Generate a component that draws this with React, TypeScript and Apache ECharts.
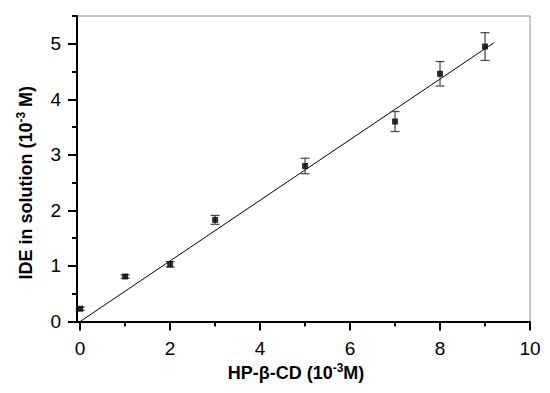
import React, { useEffect, useRef } from "react";
import * as echarts from "echarts";

const concentration = [0, 1, 2, 3, 5, 7, 8, 9];
const solubility = [0.23, 0.81, 1.03, 1.83, 2.8, 3.6, 4.46, 4.95];
const errors = [0.03, 0.03, 0.05, 0.08, 0.14, 0.18, 0.22, 0.25];
const fitLine = [
  [0, 0],
  [9.2, 5.02],
];
const xMajorTicks = [0, 2, 4, 6, 8, 10];
const xMinorTicks = [1, 3, 5, 7, 9];
const yMajorTicks = [0, 1, 2, 3, 4, 5];
const yMinorTicks = [0.5, 1.5, 2.5, 3.5, 4.5, 5.5];

const FONT = "'Liberation Sans', Arial, Helvetica, sans-serif";

export default function App() {
  const ref = useRef<HTMLDivElement>(null);
  useEffect(() => {
    if (!ref.current) return;
    const chart = echarts.init(ref.current, null, { renderer: "svg" });
    const points = concentration.map((x, i) => [x, solubility[i]]);
    const bars = concentration.map((x, i) => [x, solubility[i] - errors[i], solubility[i] + errors[i]]);
    const xMin = -0.07;
    const nameRich = {
      a: { fontSize: 18, fontWeight: "bold", fontFamily: FONT, color: "#000", lineHeight: 22 },
      s: { fontSize: 12, fontWeight: "bold", fontFamily: FONT, color: "#000", verticalAlign: "top", lineHeight: 22, padding: [0, 0, 8, 0] },
    };
    chart.setOption({
      animation: false,
      grid: {
        left: 77,
        right: 20,
        top: 16,
        bottom: 71.5,
        show: true,
        borderColor: "#8c8c8c",
        borderWidth: 1,
        backgroundColor: "transparent",
      },
      xAxis: [
        {
          type: "value",
          min: xMin,
          max: 10,
          position: "bottom",
          name: "{a|HP-β-CD (10}{s|-3}{a|M)}",
          nameLocation: "middle",
          nameGap: 37,
          nameTextStyle: { rich: nameRich, padding: [0, 15, 0, 0] },
          axisLine: { show: true, onZero: false, lineStyle: { color: "#000", width: 2 } },
          axisTick: { show: true, length: 9, lineStyle: { color: "#000", width: 2 }, customValues: xMajorTicks },
          axisLabel: { show: true, customValues: xMajorTicks, margin: 17, fontSize: 19, fontFamily: FONT, color: "#000" },
          splitLine: { show: false },
        },
        {
          type: "value",
          min: xMin,
          max: 10,
          position: "bottom",
          axisLine: { show: false, onZero: false },
          axisTick: { show: true, length: 5, lineStyle: { color: "#000", width: 2 }, customValues: xMinorTicks },
          axisLabel: { show: false },
          splitLine: { show: false },
        },
      ],
      yAxis: [
        {
          type: "value",
          min: 0,
          max: 5.5,
          position: "left",
          name: "{a|IDE in solution (10}{s|-3}{a| M)}",
          nameLocation: "middle",
          nameRotate: 90,
          nameGap: 40,
          nameTextStyle: { rich: nameRich, padding: [0, 28, 0, 0] },
          axisLine: { show: true, onZero: false, lineStyle: { color: "#000", width: 2 } },
          axisTick: { show: true, length: 9, lineStyle: { color: "#000", width: 2 }, customValues: yMajorTicks },
          axisLabel: { show: true, customValues: yMajorTicks, margin: 16, fontSize: 19, fontFamily: FONT, color: "#000" },
          splitLine: { show: false },
        },
        {
          type: "value",
          min: 0,
          max: 5.5,
          position: "left",
          axisLine: { show: false, onZero: false },
          axisTick: { show: true, length: 5, lineStyle: { color: "#000", width: 2 }, customValues: yMinorTicks },
          axisLabel: { show: false },
          splitLine: { show: false },
        },
      ],
      series: [
        {
          type: "line",
          data: fitLine,
          xAxisIndex: 0,
          yAxisIndex: 0,
          showSymbol: false,
          symbol: "none",
          lineStyle: { color: "#000", width: 1 },
          z: 2,
        },
        {
          type: "custom",
          xAxisIndex: 0,
          yAxisIndex: 0,
          data: bars,
          encode: { x: 0, y: [1, 2] },
          z: 3,
          renderItem: (params: any, api: any) => {
            const x = api.value(0);
            const lo = api.coord([x, api.value(1)]);
            const hi = api.coord([x, api.value(2)]);
            const hw = 4.5;
            const style = { stroke: "#444", lineWidth: 1.2 };
            return {
              type: "group",
              children: [
                { type: "line", shape: { x1: hi[0], y1: hi[1], x2: lo[0], y2: lo[1] }, style },
                { type: "line", shape: { x1: hi[0] - hw, y1: hi[1], x2: hi[0] + hw, y2: hi[1] }, style },
                { type: "line", shape: { x1: lo[0] - hw, y1: lo[1], x2: lo[0] + hw, y2: lo[1] }, style },
              ],
            };
          },
        },
        {
          type: "scatter",
          xAxisIndex: 0,
          yAxisIndex: 0,
          data: points,
          symbol: "rect",
          symbolSize: 6,
          itemStyle: { color: "#000" },
          z: 4,
        },
      ],
    });
    return () => chart.dispose();
  }, []);
  return <div ref={ref} style={{ width: 550, height: 393, position: "absolute", left: 0, top: 0 }} />;
}
